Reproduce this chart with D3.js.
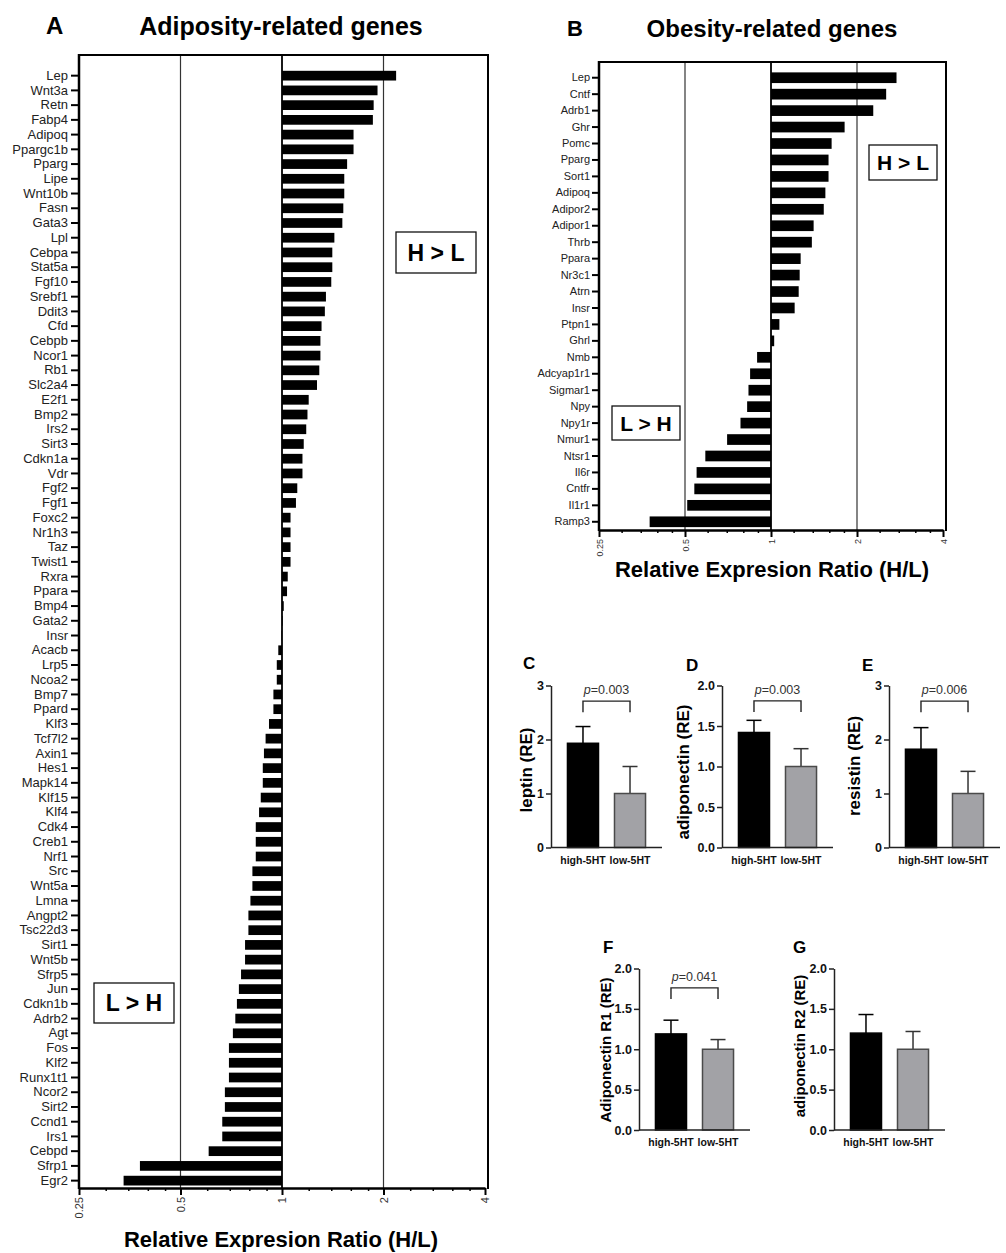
<!DOCTYPE html>
<html lang="en">
<head>
  <meta charset="utf-8">
  <title>Adiposity and obesity gene expression</title>
  <script src="https://d3js.org/d3.v7.min.js"></script>
  <style>
    body { margin: 0; background: #fff; }
    svg { font-family: 'Liberation Sans', Arial, Helvetica, sans-serif; }
  </style>
</head>
<body>
<script>
  // panel A : adiposity-related genes, H/L ratio
  var genesA = ['Lep','Wnt3a','Retn','Fabp4','Adipoq','Ppargc1b','Pparg','Lipe','Wnt10b','Fasn',
    'Gata3','Lpl','Cebpa','Stat5a','Fgf10','Srebf1','Ddit3','Cfd','Cebpb','Ncor1','Rb1','Slc2a4',
    'E2f1','Bmp2','Irs2','Sirt3','Cdkn1a','Vdr','Fgf2','Fgf1','Foxc2','Nr1h3','Taz','Twist1','Rxra',
    'Ppara','Bmp4','Gata2','Insr','Acacb','Lrp5','Ncoa2','Bmp7','Ppard','Klf3','Tcf7l2','Axin1',
    'Hes1','Mapk14','Klf15','Klf4','Cdk4','Creb1','Nrf1','Src','Wnt5a','Lmna','Angpt2','Tsc22d3',
    'Sirt1','Wnt5b','Sfrp5','Jun','Cdkn1b','Adrb2','Agt','Fos','Klf2','Runx1t1','Ncor2','Sirt2',
    'Ccnd1','Irs1','Cebpd','Sfrp1','Egr2'];
  var ratiosA = [2.18,1.92,1.87,1.86,1.63,1.63,1.56,1.53,1.53,1.52,
    1.51,1.43,1.41,1.41,1.40,1.35,1.34,1.31,1.30,1.30,1.29,1.27,
    1.20,1.19,1.18,1.16,1.15,1.15,1.11,1.10,1.06,1.06,1.06,1.06,1.04,
    1.035,1.012,1.004,0.997,0.975,0.965,0.965,0.943,0.943,0.915,0.894,0.884,
    0.877,0.877,0.865,0.855,0.836,0.836,0.836,0.817,0.817,0.806,0.795,0.795,
    0.777,0.777,0.756,0.745,0.735,0.727,0.715,0.696,0.696,0.696,0.677,0.677,
    0.665,0.665,0.606,0.379,0.339];

  // panel B : obesity-related genes
  var genesB = ['Lep','Cntf','Adrb1','Ghr','Pomc','Pparg','Sort1','Adipoq','Adipor2','Adipor1',
    'Thrb','Ppara','Nr3c1','Atrn','Insr','Ptpn1','Ghrl','Nmb','Adcyap1r1','Sigmar1','Npy','Npy1r',
    'Nmur1','Ntsr1','Il6r','Cntfr','Il1r1','Ramp3'];
  var ratiosB = [2.75,2.53,2.28,1.81,1.63,1.59,1.59,1.55,1.53,1.41,
    1.39,1.27,1.26,1.25,1.21,1.07,1.026,0.894,0.845,0.834,0.825,0.782,
    0.702,0.589,0.549,0.539,0.509,0.376];

  var ratioTicks = [0.25, 0.5, 1, 2, 4];
  var ratioGrid = [0.5, 2];

  // panels C-G : qPCR relative expression (mean, upper error)
  var groups = ['high-5HT', 'low-5HT'];
  var leptinRE = [1.93, 1.00], leptinErr = [0.31, 0.50];
  var adiponectinRE = [1.42, 1.00], adiponectinErr = [0.15, 0.22];
  var resistinRE = [1.82, 1.00], resistinErr = [0.40, 0.41];
  var adipoR1RE = [1.19, 1.00], adipoR1Err = [0.17, 0.12];
  var adipoR2RE = [1.20, 1.00], adipoR2Err = [0.23, 0.22];
  var ticks3 = [0, 1, 2, 3];
  var ticks2 = [0, 0.5, 1, 1.5, 2];

  var svg = d3.select('body').append('svg')
    .attr('width', 1006)
    .attr('height', 1253);

  function ratioPanel(o) {
    var g = svg.append('g');
    var x = d3.scaleLog().base(2)
      .domain([0.25, 4])
      .range([o.left, o.right]);
    var y = d3.scaleBand()
      .domain(o.genes)
      .range([o.bandTop, o.bottom])
      .paddingInner(o.pad)
      .paddingOuter(o.pad / 2);
    var frameR = o.right + 3;

    // grid lines
    g.selectAll('.grid')
      .data(ratioGrid)
    .enter().append('line')
      .attr('x1', function(d){return x(d);})
      .attr('x2', function(d){return x(d);})
      .attr('y1', o.top).attr('y2', o.bottom)
      .attr('stroke', '#333').attr('stroke-width', 1.2);

    // bars
    var data = o.genes.map(function(d, i){return {gene: d, v: o.ratios[i]};});
    g.selectAll('.bar')
      .data(data)
    .enter().append('rect')
      .attr('x', function(d){return x(Math.min(1, d.v));})
      .attr('y', function(d){return y(d.gene);})
      .attr('width', function(d){return Math.abs(x(d.v) - x(1));})
      .attr('height', y.bandwidth())
      .attr('fill', '#000');

    // baseline at 1
    g.append('line')
      .attr('x1', x(1)).attr('x2', x(1))
      .attr('y1', o.top).attr('y2', o.bottom)
      .attr('stroke', '#000').attr('stroke-width', 1.8);

    // frame top / right
    g.append('path')
      .attr('d', 'M' + o.left + ',' + o.top + 'H' + frameR + 'V' + (o.bottom + 1))
      .attr('fill', 'none').attr('stroke', '#000').attr('stroke-width', 2);

    // left axis
    var ay = g.append('g')
      .attr('transform', 'translate(' + o.left + ',0)')
      .call(d3.axisLeft(y).tickSize(o.tick).tickPadding(o.tickPad).tickSizeOuter(0));
    ay.select('.domain').remove();
    ay.selectAll('.tick line').attr('stroke', '#000').attr('stroke-width', 2);
    ay.selectAll('text')
      .attr('fill', '#222')
      .style('font-size', o.labelSize + 'px');
    g.append('line')
      .attr('x1', o.left).attr('x2', o.left)
      .attr('y1', o.top - 1).attr('y2', o.bottom + 1)
      .attr('stroke', '#000').attr('stroke-width', 2.5);

    // bottom axis, minor then major ticks
    var minor = [];
    ratioTicks.slice(0, -1).forEach(function(b){
      [1.2, 1.4, 1.6, 1.8].forEach(function(m){ minor.push(b * m); });
    });
    var am = g.append('g')
      .attr('transform', 'translate(0,' + o.bottom + ')')
      .call(d3.axisBottom(x).tickValues(minor).tickFormat('').tickSize(3).tickSizeOuter(0));
    am.select('.domain').remove();
    am.selectAll('.tick line').attr('stroke', '#000').attr('stroke-width', 1.5);

    var ax = g.append('g')
      .attr('transform', 'translate(0,' + o.bottom + ')')
      .call(d3.axisBottom(x).tickValues(ratioTicks).tickFormat(function(d){return String(d);})
        .tickSize(7).tickSizeOuter(0));
    ax.select('.domain').attr('stroke', '#000').attr('stroke-width', 2.5);
    ax.selectAll('.tick line').attr('stroke', '#000').attr('stroke-width', 2);
    ax.selectAll('text')
      .attr('transform', 'rotate(-90)')
      .attr('x', -9).attr('y', 0).attr('dy', '0.35em')
      .style('text-anchor', 'end')
      .style('font-size', o.tickSize + 'px')
      .attr('fill', '#333');

    // titles
    g.append('text')
      .attr('x', o.letterX).attr('y', o.letterY)
      .style('font-size', o.letterSize + 'px').style('font-weight', 'bold')
      .text(o.letter);
    g.append('text')
      .attr('x', o.titleX).attr('y', o.titleY)
      .attr('text-anchor', 'middle')
      .style('font-size', o.titleSize + 'px').style('font-weight', 'bold')
      .text(o.title);
    g.append('text')
      .attr('x', o.titleX).attr('y', o.xTitleY)
      .attr('text-anchor', 'middle')
      .style('font-size', '22px').style('font-weight', 'bold')
      .text('Relative Expresion Ratio (H/L)');

    // H > L and L > H boxes
    o.boxes.forEach(function(b){
      g.append('rect')
        .attr('x', b.x).attr('y', b.y).attr('width', b.w).attr('height', b.h)
        .attr('fill', '#fff').attr('stroke', '#111').attr('stroke-width', 1.3);
      g.append('text')
        .attr('x', b.x + b.w / 2).attr('y', b.y + b.h / 2)
        .attr('dy', '0.36em')
        .attr('text-anchor', 'middle')
        .style('font-size', b.size + 'px').style('font-weight', 'bold')
        .text(b.text);
    });
  }

  ratioPanel({
    genes: genesA, ratios: ratiosA,
    left: 79, right: 485, top: 55, bandTop: 68.3, bottom: 1188, pad: 0.34,
    tick: 8, tickPad: 3, labelSize: 13, tickSize: 11,
    letter: 'A', letterX: 46, letterY: 34, letterSize: 24,
    title: 'Adiposity-related genes', titleX: 281, titleY: 35, titleSize: 25, xTitleY: 1247,
    boxes: [
      {text: 'H > L', x: 396, y: 232, w: 80, h: 41, size: 23},
      {text: 'L > H', x: 94, y: 983, w: 80, h: 40, size: 23}
    ]
  });

  ratioPanel({
    genes: genesB, ratios: ratiosB,
    left: 599, right: 943, top: 62, bandTop: 69.5, bottom: 530, pad: 0.35,
    tick: 7, tickPad: 2, labelSize: 11, tickSize: 9,
    letter: 'B', letterX: 567, letterY: 36, letterSize: 22,
    title: 'Obesity-related genes', titleX: 772, titleY: 37, titleSize: 24, xTitleY: 577,
    boxes: [
      {text: 'H > L', x: 869, y: 145, w: 68, h: 35, size: 21},
      {text: 'L > H', x: 612, y: 406, w: 68, h: 34, size: 21}
    ]
  });

  function barPanel(o) {
    var g = svg.append('g');
    var y = d3.scaleLinear()
      .domain([0, o.ticks[o.ticks.length - 1]])
      .range([o.y0, o.yTop]);
    var x = d3.scaleBand()
      .domain(groups)
      .range([o.x0, o.x0 + 111])
      .paddingInner(0.34)
      .paddingOuter(0.35);
    var data = groups.map(function(d, i){return {g: d, v: o.vals[i], e: o.errs[i]};});

    // error bars (upper only)
    var err = g.selectAll('.err')
      .data(data)
    .enter().append('g')
      .attr('stroke', function(d, i){return i ? '#333' : '#000';})
      .attr('stroke-width', 1.5);
    err.append('line')
      .attr('x1', function(d){return x(d.g) + x.bandwidth() / 2;})
      .attr('x2', function(d){return x(d.g) + x.bandwidth() / 2;})
      .attr('y1', function(d){return y(d.v);})
      .attr('y2', function(d){return y(d.v + d.e);});
    err.append('line')
      .attr('x1', function(d){return x(d.g) + x.bandwidth() / 2 - 7.5;})
      .attr('x2', function(d){return x(d.g) + x.bandwidth() / 2 + 7.5;})
      .attr('y1', function(d){return y(d.v + d.e);})
      .attr('y2', function(d){return y(d.v + d.e);});

    g.selectAll('.bar')
      .data(data)
    .enter().append('rect')
      .attr('x', function(d){return x(d.g);})
      .attr('y', function(d){return y(d.v);})
      .attr('width', x.bandwidth())
      .attr('height', function(d){return y(0) - y(d.v);})
      .attr('fill', function(d, i){return i ? '#a2a2a6' : '#000';})
      .attr('stroke', function(d, i){return i ? '#4a4a4a' : '#000';})
      .attr('stroke-width', 1.5);

    // axes
    var ay = g.append('g')
      .attr('transform', 'translate(' + o.x0 + ',0)')
      .call(d3.axisLeft(y).tickValues(o.ticks).tickFormat(d3.format(o.fmt))
        .tickSize(5).tickPadding(2).tickSizeOuter(0));
    ay.select('.domain').attr('stroke', '#222').attr('stroke-width', 1.5);
    ay.selectAll('.tick line').attr('stroke', '#222').attr('stroke-width', 1.5);
    ay.selectAll('text')
      .style('font-size', '12.5px').style('font-weight', 'bold').attr('fill', '#111');

    g.append('line')
      .attr('x1', o.x0).attr('x2', o.x0 + 111)
      .attr('y1', o.y0).attr('y2', o.y0)
      .attr('stroke', '#222').attr('stroke-width', 1.5);
    g.selectAll('.xl')
      .data(groups)
    .enter().append('text')
      .attr('x', function(d){return x(d) + x.bandwidth() / 2;})
      .attr('y', o.y0 + 16)
      .attr('text-anchor', 'middle')
      .style('font-size', '10.5px').style('font-weight', 'bold').attr('fill', '#111')
      .text(function(d){return d;});

    // labels
    g.append('text')
      .attr('x', o.letterX).attr('y', o.letterY)
      .style('font-size', '17px').style('font-weight', 'bold')
      .text(o.letter);
    g.append('text')
      .attr('transform', 'translate(' + (o.x0 - o.titleOff) + ',' + o.titleY + ') rotate(-90)')
      .attr('text-anchor', 'middle')
      .attr('dy', '0.35em')
      .style('font-size', o.titleSize + 'px').style('font-weight', 'bold')
      .text(o.title);

    // significance bracket
    if (o.p) {
      var c1 = x(groups[0]) + x.bandwidth() / 2;
      var c2 = x(groups[1]) + x.bandwidth() / 2;
      var yb = y(o.pAt);
      g.append('path')
        .attr('d', 'M' + c1 + ',' + (yb + 11) + 'V' + yb + 'H' + c2 + 'V' + (yb + 11))
        .attr('fill', 'none').attr('stroke', '#222').attr('stroke-width', 1.4);
      var t = g.append('text')
        .attr('x', (c1 + c2) / 2).attr('y', yb - 7)
        .attr('text-anchor', 'middle')
        .style('font-size', '12.5px').attr('fill', '#333');
      t.append('tspan').style('font-style', 'italic').text('p');
      t.append('tspan').text('=' + o.p);
    }
  }

  barPanel({x0: 551, y0: 847.5, yTop: 685.5, vals: leptinRE, errs: leptinErr, ticks: ticks3, fmt: 'd',
    letter: 'C', letterX: 523, letterY: 669, title: 'leptin (RE)', titleOff: 25, titleY: 770, titleSize: 17,
    p: '0.003', pAt: 2.71});
  barPanel({x0: 722, y0: 847.5, yTop: 685.5, vals: adiponectinRE, errs: adiponectinErr, ticks: ticks2, fmt: '.1f',
    letter: 'D', letterX: 686, letterY: 671, title: 'adiponectin (RE)', titleOff: 39, titleY: 772, titleSize: 17,
    p: '0.003', pAt: 1.81});
  barPanel({x0: 889, y0: 847.5, yTop: 685.5, vals: resistinRE, errs: resistinErr, ticks: ticks3, fmt: 'd',
    letter: 'E', letterX: 862, letterY: 671, title: 'resistin (RE)', titleOff: 35, titleY: 766, titleSize: 17,
    p: '0.006', pAt: 2.71});
  barPanel({x0: 639, y0: 1130, yTop: 968.5, vals: adipoR1RE, errs: adipoR1Err, ticks: ticks2, fmt: '.1f',
    letter: 'F', letterX: 603, letterY: 953, title: 'Adiponectin R1 (RE)', titleOff: 33, titleY: 1050, titleSize: 15,
    p: '0.041', pAt: 1.76});
  barPanel({x0: 834, y0: 1130, yTop: 968.5, vals: adipoR2RE, errs: adipoR2Err, ticks: ticks2, fmt: '.1f',
    letter: 'G', letterX: 793, letterY: 953, title: 'adiponectin R2 (RE)', titleOff: 34, titleY: 1046, titleSize: 15});
</script>
</body>
</html>
